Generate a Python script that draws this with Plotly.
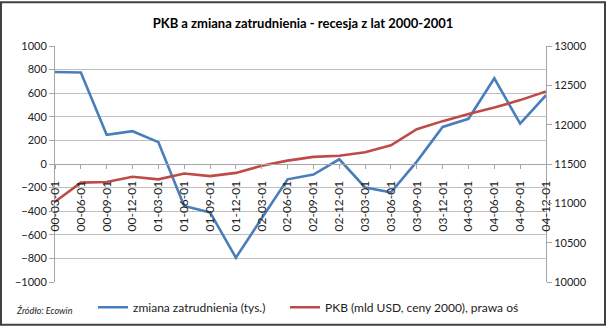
import plotly.graph_objects as go

categories = ["00-03-01", "00-06-01", "00-09-01", "00-12-01", "01-03-01", "01-06-01",
              "01-09-01", "01-12-01", "02-03-01", "02-06-01", "02-09-01", "02-12-01",
              "03-03-01", "03-06-01", "03-09-01", "03-12-01", "04-03-01", "04-06-01",
              "04-09-01", "04-12-01"]
employment_change = [780, 775, 248, 278, 185, -355, -410, -794, -460, -130, -90, 40,
                     -199, -240, 20, 314, 383, 726, 342, 583]
gdp = [11020, 11263, 11272, 11337, 11305, 11379, 11346, 11387, 11478, 11543, 11590,
       11605, 11650, 11737, 11942, 12045, 12136, 12218, 12312, 12423]

left_ticks = list(range(-1000, 1001, 200))
right_ticks = list(range(10000, 13001, 500))

FONT = "Lato"
BLUE = "#4A7EBB"
RED = "#BE4B48"
AXIS = "#A6A6A6"

W, H = 606, 334
ML, MR, MT, MB = 55, 60, 46, 45
pw, ph = W - ML - MR, H - MT - MB

fig = go.Figure()
fig.add_trace(go.Scatter(x=categories, y=employment_change, mode="lines",
                         name="zmiana zatrudnienia (tys.)", legend="legend",
                         line=dict(color=BLUE, width=2.6), yaxis="y"))
fig.add_trace(go.Scatter(x=categories, y=gdp, mode="lines",
                         name="PKB (mld USD, ceny 2000), prawa oś", legend="legend2",
                         line=dict(color=RED, width=2.6), yaxis="y2"))

def px_x(p):
    return (p - ML) / pw

def px_y(p):
    return (H - MB - p) / ph

legend_common = dict(orientation="h", xanchor="left", y=px_y(315), yanchor="middle",
                     font=dict(size=12, family=FONT), bgcolor="rgba(0,0,0,0)",
                     itemwidth=30)

fig.update_layout(
    width=W, height=H,
    margin=dict(l=ML, r=MR, t=MT, b=MB),
    paper_bgcolor="white", plot_bgcolor="white",
    font=dict(family=FONT, size=11, color="#222222"),
    title=dict(text="<b>PKB a zmiana zatrudnienia - recesja z lat 2000-2001</b>",
               x=0.5, xanchor="center", y=1 - 23 / H, yanchor="middle",
               yref="container", font=dict(family=FONT, size=13, color="#000000")),
    xaxis=dict(type="category", range=[0, len(categories) - 1],
               anchor="free", position=0.5,
               showgrid=False, showline=True, linecolor=AXIS, linewidth=1,
               ticks="outside", ticklen=4, tickcolor=AXIS,
               ticklabelstandoff=7,
               tickangle=-90, tickfont=dict(size=12, family=FONT)),
    yaxis=dict(range=[-1000, 1000], tickvals=left_ticks,
               showgrid=True, gridcolor="#BFBFBF", gridwidth=1,
               zeroline=False, showline=True, linecolor=AXIS,
               ticks="outside", ticklen=5, tickcolor=AXIS,
               tickfont=dict(size=11, family=FONT)),
    yaxis2=dict(range=[10000, 13000], tickvals=right_ticks, overlaying="y",
                tickformat="d",
                side="right", showgrid=False, zeroline=False,
                showline=True, linecolor=AXIS,
                ticks="outside", ticklen=5, tickcolor=AXIS,
                tickfont=dict(size=11, family=FONT)),
    showlegend=True,
    legend=dict(x=px_x(93), **legend_common),
    legend2=dict(x=px_x(285), **legend_common),
    annotations=[dict(text="<i>Źródło: Ecowin</i>", xref="paper", yref="paper",
                      x=px_x(14), y=px_y(318), xanchor="left", yanchor="middle",
                      showarrow=False, font=dict(size=9, family=FONT, color="#222222"))],
    shapes=[dict(type="rect", xref="paper", yref="paper",
                 x0=px_x(1), x1=px_x(W - 1), y0=px_y(H - 1), y1=px_y(1),
                 line=dict(color="#404040", width=2), layer="above")],
)

fig.write_html("out.html")
